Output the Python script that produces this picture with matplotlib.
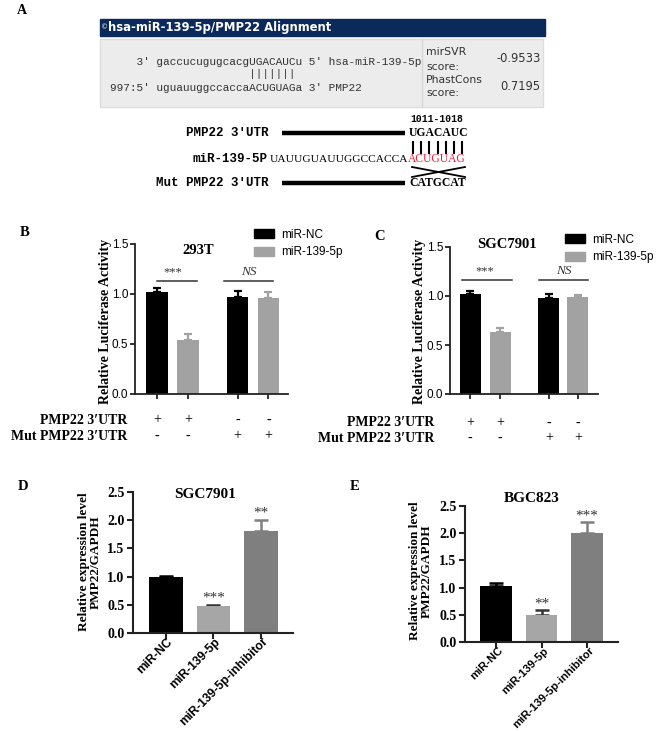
import numpy as np
import matplotlib
matplotlib.use("Agg")
import matplotlib.pyplot as plt
import matplotlib.transforms as mtransforms
from matplotlib.patches import Rectangle, Patch

W, H = 656, 731

# ---- data ----
luc_groups = ["miR-NC", "miR-139-5p"]
luc_b_vals = [1.02, 0.54, 0.975, 0.965]
luc_b_err = [0.04, 0.06, 0.06, 0.06]
luc_c_vals = [1.025, 0.635, 0.98, 0.985]
luc_c_err = [0.03, 0.04, 0.04, 0.03]
luc_row1 = ["+", "+", "-", "-"]
luc_row2 = ["-", "-", "+", "+"]

expr_cats = ["miR-NC", "miR-139-5p", "miR-139-5p-inhibitor"]
expr_d_vals = [1.0, 0.485, 1.81]
expr_d_err = [0.01, 0.015, 0.19]
expr_e_vals = [1.03, 0.495, 2.01]
expr_e_err = [0.055, 0.085, 0.19]
stars_d = ["", "***", "**"]
stars_e = ["", "**", "***"]

SERIF = "Liberation Serif"
SANS = "Liberation Sans"
MONO = "Liberation Mono"

fig = plt.figure(figsize=(W / 100, H / 100), dpi=100)
fig.patch.set_facecolor("white")

# pixel overlay for panel A and free text
ov = fig.add_axes([0, 0, 1, 1], zorder=-1)
ov.set_xlim(0, W)
ov.set_ylim(H, 0)
ov.axis("off")


def px_axes(x0, y0, x1, y1):
    ax = fig.add_axes([x0 / W, 1 - y1 / H, (x1 - x0) / W, (y1 - y0) / H])
    ax.patch.set_visible(False)
    return ax


def style_axes(ax, lw=1.3, length=3.5, pad=1.5):
    for s in ["top", "right"]:
        ax.spines[s].set_visible(False)
    for s in ["left", "bottom"]:
        ax.spines[s].set_linewidth(lw)
        ax.spines[s].set_color("#222222")
    ax.tick_params(width=lw, length=length, color="#222222", pad=pad)


# ---------------- panel A ----------------
ov.text(22, 10, "A", fontsize=10, fontweight="bold", family=SERIF, ha="center", va="center")
ov.add_patch(Rectangle((100, 19), 445, 17, color="#0b2a5b"))
ov.text(100.5, 27.5, "\u00a9", color="white", fontsize=5, va="center", ha="left")
ov.text(108.5, 27.5, "hsa-miR-139-5p/PMP22 Alignment", color="white", fontsize=8.4,
        fontweight="bold", family="DejaVu Sans", va="center", ha="left")
ov.add_patch(Rectangle((100, 39), 443, 68, facecolor="#ececec", edgecolor="#dddddd", lw=1))
ov.plot([422, 422], [39, 107], color="#d6d6d6", lw=1)
line1 = "    3' gaccucugugcacgUGACAUCu 5' hsa-miR-139-5p"
pipes = " " * 21 + "|||||||"
line2 = "997:5' uguauuggccaccaACUGUAGa 3' PMP22"
for y, s in [(62, line1), (74, pipes), (88, line2)]:
    ov.text(110, y, s, family=MONO, fontsize=8, va="center", ha="left", color="#333333")
for y, s in [(52, "mirSVR"), (67, "score:"), (80, "PhastCons"), (93, "score:")]:
    ov.text(426, y, s, family="DejaVu Sans", fontsize=7.8, va="center", ha="left", color="#333333")
ov.text(541, 59, "-0.9533", family="DejaVu Sans", fontsize=8.3, va="center", ha="right", color="#333333")
ov.text(540, 86, "0.7195", family="DejaVu Sans", fontsize=8.3, va="center", ha="right", color="#333333")

ov.text(437, 119, "1011-1018", family=MONO, fontsize=7, fontweight="bold", ha="center", va="center")
for y, s in [(133, "PMP22 3\u2032UTR"), (159, "miR-139-5P"), (183, "Mut PMP22 3\u2032UTR")]:
    ov.text(268, y, s, family=MONO, fontsize=9, fontweight="bold", ha="right", va="center")
for y in [133, 183]:
    ov.plot([282, 405], [y, y], color="black", lw=3.2, solid_capstyle="butt")
ov.text(409, 133, "UGACAUC", family=SERIF, fontsize=8.4, fontweight="bold", ha="left", va="center")
ov.text(409, 183, "CATGCAT", family=SERIF, fontsize=8.4, fontweight="bold", ha="left", va="center")
ov.text(408, 159, "UAUUGUAUUGGCCACCA", family=SERIF, fontsize=8.2, ha="right", va="center")
ov.text(408, 159, "ACUGUAG", family=SERIF, fontsize=8.3, ha="left", va="center", color="#e8203a")
for x in np.linspace(413, 462, 7):
    ov.plot([x, x], [142, 153], color="black", lw=1.5)
ov.plot([412, 465], [167, 177], color="black", lw=1.3)
ov.plot([412, 465], [177, 167], color="black", lw=1.3)


# ---------------- panels B / C ----------------
def luc_panel(rect, vals, errs, pos, xlim, title, title_xy, letter, letter_xy,
              ylab_x, leg_xy, rows_y, rows_right, spans, sig_y, sig_txt_y, colors):
    ax = px_axes(*rect)
    style_axes(ax)
    ax.bar(pos, vals, width=0.7, color=colors, zorder=2)
    for p, v, e, c in zip(pos, vals, errs, colors):
        ax.errorbar(p, v, yerr=[[0], [e]], fmt="none", ecolor=c, elinewidth=1.6,
                    capsize=3.2, capthick=1.6, zorder=1)
    ax.set_xlim(*xlim)
    ax.set_ylim(0, 1.5)
    ax.set_yticks([0, 0.5, 1.0, 1.5])
    ax.set_yticklabels(["0.0", "0.5", "1.0", "1.5"], family=SANS, fontsize=8.5)
    ax.set_xticks(pos)
    ax.set_xticklabels([])
    # significance
    for (a, b), txt, tstyle in zip(spans, ["***", "NS"], ["normal", "italic"]):
        ax.plot([a, b], [sig_y, sig_y], color="#333333", lw=1.1, clip_on=False)
        ax.text((a + b) / 2 if txt == "NS" else pos[0] + 0.5, sig_txt_y, txt,
                family=SERIF, fontsize=9 if txt == "***" else 9.5, style=tstyle,
                ha="center", va="center", color="#333333")
    ov.text(title_xy[0], title_xy[1], title, family=SERIF, fontsize=10.5, fontweight="bold",
            ha="center", va="center")
    ov.text(letter_xy[0], letter_xy[1], letter, family=SERIF, fontsize=10.5, fontweight="bold",
            ha="center", va="center")
    ov.text(ylab_x, 321, "Relative Luciferase Activity", family=SERIF, fontsize=10,
            fontweight="bold", rotation=90, ha="center", va="center")
    handles = [Patch(color=colors[0]), Patch(color=colors[1])]
    ax.legend(handles, luc_groups, loc="upper left", bbox_to_anchor=(leg_xy[0] / W, 1 - leg_xy[1] / H),
              bbox_transform=fig.transFigure, frameon=False, prop={"family": SANS, "size": 8.5},
              handlelength=1.7, handleheight=0.8, handletextpad=0.6, labelspacing=0.45,
              borderpad=0, borderaxespad=0)
    tr = mtransforms.blended_transform_factory(ax.transData, ov.transData)
    for y, lab, signs in [(rows_y[0], "PMP22 3\u2032UTR", luc_row1), (rows_y[1], "Mut PMP22 3\u2032UTR", luc_row2)]:
        ov.text(rows_right, y, lab, family=SERIF, fontsize=10, fontweight="bold", ha="right", va="center")
        for p, s in zip(pos, signs):
            ax.text(p, y, s, transform=tr, family=SERIF, fontsize=10, ha="center", va="center")
    return ax


gray = "#a2a2a2"
luc_panel((135, 244, 288, 394), luc_b_vals, luc_b_err, [0, 1, 2.6, 3.6], (-0.71, 4.23),
          "293T", (198, 250), "B", (25, 233), 106, (254, 229), (420, 436), 127,
          [(0.0, 1.3), (2.15, 3.75)], 1.13, 1.22, ["black", gray, "black", gray])
luc_panel((450, 247, 598, 394), luc_c_vals, luc_c_err, [0, 1, 2.63, 3.6], (-0.67, 4.27),
          "SGC7901", (507, 245), "C", (380, 237), 420, (565, 234), (423, 438), 434,
          [(-0.27, 1.4), (2.3, 3.93)], 1.16, 1.25, ["black", gray, "black", gray])


# ---------------- panels D / E ----------------
def expr_panel(rect, vals, errs, stars, xlim, title, title_xy, letter, letter_xy, ylab_xy, xfs):
    ax = px_axes(*rect)
    style_axes(ax, lw=1.5, length=4, pad=2)
    pos = np.arange(len(vals))
    colors = ["black", "#a6a6a6", "#7f7f7f"]
    ax.bar(pos, vals, width=0.7, color=colors, zorder=2)
    for p, v, e, c in zip(pos, vals, errs, colors):
        ax.errorbar(p, v, yerr=[[0], [e]], fmt="none", ecolor=c if c != "#a6a6a6" else "#333333",
                    elinewidth=1.8, capsize=5, capthick=1.8, zorder=1)
        ax.text(p, v + e + 0.12, stars[p], family=SERIF, fontsize=11, ha="center", va="center",
                color="#333333")
    ax.set_xlim(*xlim)
    ax.set_ylim(0, 2.5)
    ax.set_yticks([0, 0.5, 1.0, 1.5, 2.0, 2.5])
    ax.set_yticklabels(["0.0", "0.5", "1.0", "1.5", "2.0", "2.5"], family=SERIF,
                       fontsize=10, fontweight="bold")
    ax.set_xticks(pos)
    ax.set_xticklabels(expr_cats, rotation=45, ha="right", va="center", rotation_mode="anchor",
                       family=SANS, fontsize=xfs, fontweight="bold")
    shift = mtransforms.ScaledTranslation(5 / 100, 1.5 / 100, fig.dpi_scale_trans)
    for lab in ax.get_xticklabels():
        lab.set_transform(lab.get_transform() + shift)
    ov.text(title_xy[0], title_xy[1], title, family=SERIF, fontsize=11, fontweight="bold",
            ha="center", va="center")
    ov.text(letter_xy[0], letter_xy[1], letter, family=SERIF, fontsize=10.5, fontweight="bold",
            ha="center", va="center")
    ov.text(ylab_xy[0], ylab_xy[1], "Relative expression level\nPMP22/GAPDH", family=SERIF,
            fontsize=9.5, fontweight="bold", rotation=90, ha="center", va="center",
            multialignment="center", linespacing=1.05)
    return ax


expr_panel((133, 492, 293, 633), expr_d_vals, expr_d_err, stars_d, (-0.69, 2.67),
           "SGC7901", (205, 495), "D", (23, 487), (90, 562), 8.7)
expr_panel((465, 506, 618, 642), expr_e_vals, expr_e_err, stars_e, (-0.68, 2.68),
           "BGC823", (532, 498), "E", (355, 487), (421, 571), 8.1)

fig.savefig("out.png", dpi=100, facecolor="white")
